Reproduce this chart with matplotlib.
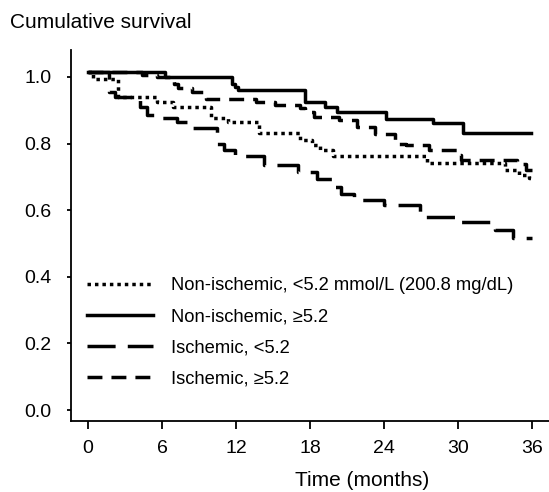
import matplotlib.pyplot as plt

plt.rcParams['font.family'] = ['Liberation Sans', 'DejaVu Sans']

# Kaplan-Meier style step data (months, cumulative survival)
noni_low_t = [0, 0.4, 2.4, 5.6, 6.9, 10.0, 11.35, 13.9, 17.2, 18.2, 18.8, 19.9, 27.5, 33.8, 35.0, 35.8, 36.0]
noni_low_s = [1.015, 0.995, 0.94, 0.926, 0.911, 0.877, 0.866, 0.832, 0.81, 0.796, 0.78, 0.763, 0.741, 0.72, 0.705, 0.696, 0.696]

noni_high_t = [0, 6.24, 11.7, 11.9, 12.2, 17.6, 19.2, 20.2, 24.2, 28.0, 30.4, 35.9]
noni_high_s = [1.015, 1.0, 0.98, 0.97, 0.96, 0.926, 0.91, 0.894, 0.874, 0.861, 0.831, 0.831]

isch_low_t = [0, 1.7, 2.2, 4.2, 4.8, 5.8, 7.2, 8.0, 10.5, 11.0, 11.9, 14.3, 17.0, 18.6, 19.8, 20.5, 21.6,
              24.0, 26.9, 30.3, 33.0, 34.5, 36.0]
isch_low_s = [1.015, 0.955, 0.94, 0.91, 0.885, 0.877, 0.866, 0.847, 0.80, 0.78, 0.763, 0.736, 0.715, 0.695,
              0.67, 0.65, 0.63, 0.616, 0.58, 0.566, 0.54, 0.516, 0.516]

isch_high_t = [0, 4.4, 5.6, 7.0, 7.3, 8.4, 9.6, 13.6, 15.2, 17.2, 17.6, 18.3, 20.4, 21.8, 23.3, 24.9, 25.8,
               27.7, 29.9, 30.3, 34.8, 35.5, 36.0]
isch_high_s = [1.015, 1.006, 1.0, 0.98, 0.967, 0.955, 0.935, 0.925, 0.916, 0.906, 0.896, 0.88, 0.87, 0.85,
               0.83, 0.80, 0.796, 0.78, 0.765, 0.75, 0.74, 0.72, 0.72]

labels = ['Non-ischemic, <5.2 mmol/L (200.8 mg/dL)', 'Non-ischemic, \u22655.2',
          'Ischemic, <5.2', 'Ischemic, \u22655.2']
x_ticks = [0, 6, 12, 18, 24, 30, 36]
y_ticks = [0.0, 0.2, 0.4, 0.6, 0.8, 1.0]

fig = plt.figure(figsize=(5.49, 4.92), dpi=100)
ax = fig.add_axes([71 / 549, 71 / 492, 478 / 549, 371 / 492])

lw = 2.5
l1, = ax.plot(noni_low_t, noni_low_s, drawstyle='steps-post', color='black', lw=lw,
              linestyle=(0, (1.0, 1.15)), dash_capstyle='butt')
l2, = ax.plot(noni_high_t, noni_high_s, drawstyle='steps-post', color='black', lw=lw)
l3, = ax.plot(isch_low_t, isch_low_s, drawstyle='steps-post', color='black', lw=lw,
              linestyle=(0, (8.1, 3.5)), dash_capstyle='butt')
l4, = ax.plot(isch_high_t, isch_high_s, drawstyle='steps-post', color='black', lw=lw,
              linestyle=(0, (4.3, 2.6)), dash_capstyle='butt')

ax.set_xlim(-1.38, 37.4)
ax.set_ylim(-0.033, 1.081)
ax.set_xticks(x_ticks)
ax.set_yticks(y_ticks)
ax.set_yticklabels(['%.1f' % v for v in y_ticks])

for side in ['top', 'right']:
    ax.spines[side].set_visible(False)
for side in ['left', 'bottom']:
    ax.spines[side].set_linewidth(1.3)

ax.tick_params(axis='x', length=6, width=1.3, pad=8, labelsize=14)
ax.tick_params(axis='y', length=3, width=1.3, pad=11, labelsize=14)

ax.legend([l1, l2, l3, l4], labels, loc='upper left', bbox_to_anchor=(0.0335, 0.387),
          frameon=False, fontsize=13.2, handlelength=3.6, handletextpad=1.0,
          labelspacing=0.77, borderpad=0, borderaxespad=0)

fig.text(10 / 549, 1 - 22 / 492, 'Cumulative survival', fontsize=15, va='center', ha='left')
fig.text(362 / 549, 1 - 481 / 492, 'Time (months)', fontsize=15, va='center', ha='center')

fig.savefig('out.png', dpi=100)
